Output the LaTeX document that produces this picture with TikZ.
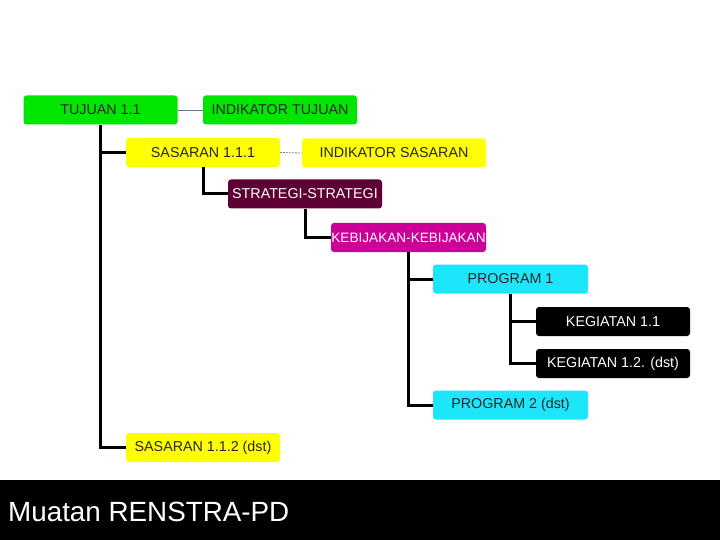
\documentclass[tikz,border=0pt]{standalone}
\usepackage{fontspec}
\setmainfont{Liberation Sans}
\definecolor{cgreen}{HTML}{00E600}
\definecolor{cyellow}{HTML}{FFFF00}
\definecolor{ccyan}{HTML}{1EE6FA}
\definecolor{cmaroon}{HTML}{5E0034}
\definecolor{cmagenta}{HTML}{CC0099}
\definecolor{clink}{HTML}{5A7A9A}
\tikzset{
  box/.style={rounded corners=3pt, inner sep=0pt, minimum width=154pt, minimum height=29pt,
    font=\fontsize{14.3}{17}\selectfont},
  dk/.style={box, text=black!85},
  lt/.style={box, text=white},
  tree/.style={draw=black, line width=3pt, line join=miter},
}
\begin{document}
\begin{tikzpicture}[x=1pt,y=-1pt]
\useasboundingbox (0,0) rectangle (720,540);
\fill[white] (0,0) rectangle (720,540);
% boxes
\node[dk, fill=cgreen] (tuj) at (100.5,110) {TUJUAN 1.1};
\node[dk, fill=cgreen] (indt) at (280,110) {INDIKATOR TUJUAN};
\node[dk, fill=cyellow] (sas1) at (203,152.5) {SASARAN 1.1.1};
\node[dk, fill=cyellow, minimum width=184pt] (inds) at (394,153) {INDIKATOR SASARAN};
\node[lt, fill=cmaroon] (strat) at (305,194) {STRATEGI-STRATEGI};
\node[lt, fill=cmagenta, minimum width=155pt, font=\fontsize{13.6}{16}\selectfont] (keb) at (408.5,237.5) {KEBIJAKAN-KEBIJAKAN};
\node[dk, fill=ccyan, minimum width=155pt] (prog1) at (510.5,279) {PROGRAM 1};
\node[lt, fill=black] (keg1) at (613,321.5) {KEGIATAN 1.1};
\node[lt, fill=black] (keg2) at (613,363.5) {KEGIATAN 1.2. (dst)};
\node[dk, fill=ccyan, minimum width=155pt] (prog2) at (510.5,405) {PROGRAM 2 (dst)};
\node[dk, fill=cyellow] (sas2) at (203,447.5) {SASARAN 1.1.2 (dst)};
% links
\draw[clink, line width=0.8pt] (tuj.east) -- (indt.west);
\draw[gray, line width=0.8pt, dash pattern=on 2pt off 1pt] (sas1.east) -- (inds.west);
% tree connectors
\draw[tree] (tuj.south) |- (sas2.west);
\draw[tree] (tuj.south |- sas1.west) -- (sas1.west);
\draw[tree] (sas1.south) |- (strat.west);
\draw[tree] (strat.south) |- (keb.west);
\draw[tree] (keb.south) |- (prog2.west);
\draw[tree] (keb.south |- prog1.west) -- (prog1.west);
\draw[tree] (prog1.south) |- (keg2.west);
\draw[tree] (prog1.south |- keg1.west) -- (keg1.west);
% footer
\fill[black] (0,480) rectangle (720,540);
\node[anchor=base west, text=white, inner sep=0pt, font=\fontsize{27.8}{32}\selectfont] (title) at (8,521) {Muatan RENSTRA-PD};
\end{tikzpicture}
\end{document}
